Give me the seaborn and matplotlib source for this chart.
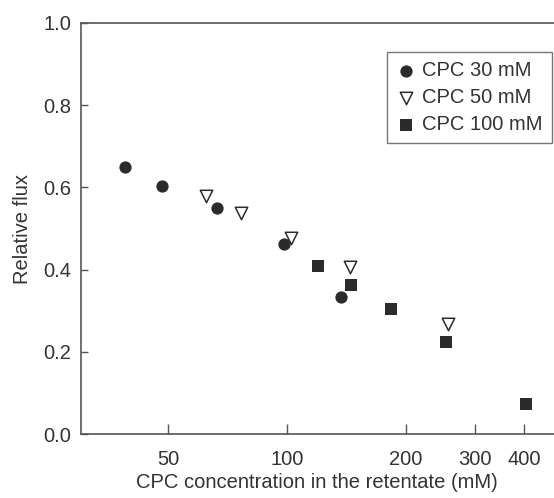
import matplotlib
matplotlib.use("Agg")
import matplotlib.pyplot as plt
import seaborn as sns
import pandas as pd

# Data (x on log scale)
x_30 = [38.8, 48.2, 66.5, 98.6, 136.8]
y_30 = [0.649, 0.603, 0.549, 0.463, 0.334]

x_50 = [62.3, 76.4, 102.5, 144.8, 256.6]
y_50 = [0.580, 0.537, 0.477, 0.407, 0.268]

x_100 = [120.1, 145.4, 183.3, 252.9, 403.3]
y_100 = [0.410, 0.363, 0.304, 0.225, 0.073]

x_ticks = [50, 100, 200, 300, 400]
y_ticks = [0.0, 0.2, 0.4, 0.6, 0.8, 1.0]

sns.set_style("ticks")
plt.rcParams['font.family'] = ['Liberation Sans', 'DejaVu Sans']
plt.rcParams['font.size'] = 14.5

ink = '#2b2b2b'
spine = '#555555'
txt = '#333333'

fig = plt.figure(figsize=(5.54, 4.98), dpi=100)
ax = fig.add_axes([0.1457, 0.1279, 0.8543, 0.8265])

df30 = pd.DataFrame({'x': x_30, 'y': y_30})
df50 = pd.DataFrame({'x': x_50, 'y': y_50})
df100 = pd.DataFrame({'x': x_100, 'y': y_100})

sns.scatterplot(data=df30, x='x', y='y', ax=ax, marker='o', s=78,
                color=ink, edgecolor=ink, linewidth=0, label='CPC 30 mM', zorder=3)
sns.scatterplot(data=df50, x='x', y='y', ax=ax, marker='v', s=80,
                facecolor='white', edgecolor=ink, linewidth=1.1,
                label='CPC 50 mM', zorder=4)
sns.scatterplot(data=df100, x='x', y='y', ax=ax, marker='s', s=72,
                color=ink, edgecolor=ink, linewidth=0, label='CPC 100 mM', zorder=3)

ax.set_xscale('log')
ax.set_xlim(30, 476)
ax.set_ylim(0, 1.0)
ax.set_xticks(x_ticks)
ax.set_xticklabels([str(t) for t in x_ticks])
ax.xaxis.set_minor_locator(matplotlib.ticker.NullLocator())
ax.set_yticks(y_ticks)
ax.set_yticklabels([f'{t:.1f}' for t in y_ticks])

ax.tick_params(axis='x', direction='in', length=7, width=1, color=spine,
               labelcolor=txt, labelsize=14.5, pad=11)
ax.tick_params(axis='y', direction='in', length=5, width=1, color=spine,
               labelcolor=txt, labelsize=14.5, pad=7)

ax.set_xlabel('CPC concentration in the retentate (mM)', color=txt, fontsize=14.5, labelpad=3)
ax.set_ylabel('Relative flux', color=txt, fontsize=14.5, labelpad=8)

for side in ['left', 'bottom', 'top']:
    ax.spines[side].set_color(spine)
    ax.spines[side].set_linewidth(1.2)
ax.spines['right'].set_visible(False)

leg = ax.legend(loc='upper right', bbox_to_anchor=(0.995, 0.929), frameon=True,
                fancybox=False, edgecolor=spine, fontsize=14.5, handletextpad=0.3,
                borderpad=0.45, labelspacing=0.4, handlelength=1.0, borderaxespad=0)
leg.get_frame().set_linewidth(1.0)
for t in leg.get_texts():
    t.set_color(txt)

fig.savefig('out.png', dpi=100)
